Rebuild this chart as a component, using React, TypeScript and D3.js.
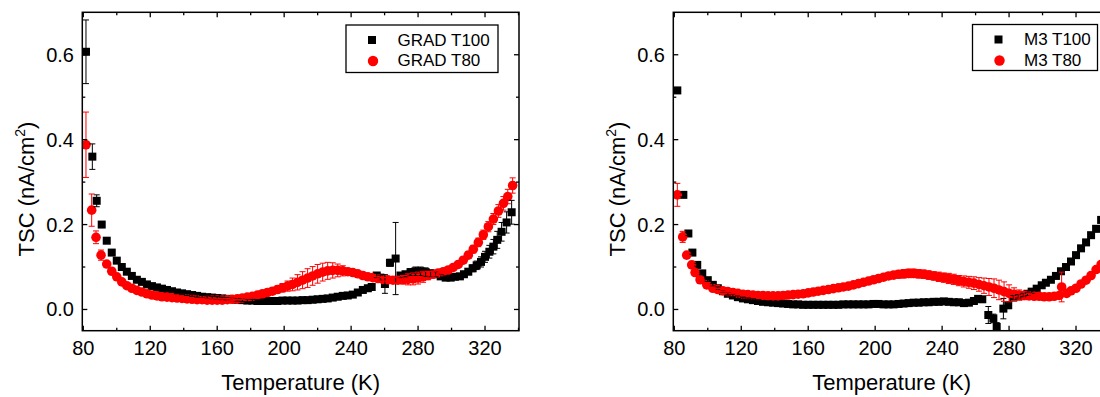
import React from "react";
import * as d3 from "d3";

// [temperature (K), TSC (nA/cm2), error]
type Pt = [number, number, number];

const gradT100: Pt[] = [
  [81.6, 0.607, 0.075], [85.4, 0.36, 0.03], [88, 0.256, 0.014], [91, 0.2, 0.006],
  [94, 0.162, 0.004], [97, 0.134, 0.003], [100, 0.115, 0.003], [103, 0.1, 0.003],
  [106, 0.089, 0.003], [109, 0.079, 0.003], [112, 0.07, 0.003], [115, 0.065, 0.003],
  [118, 0.059, 0.003], [121, 0.055, 0.003], [124, 0.052, 0.003], [127, 0.049, 0.003],
  [130, 0.046, 0.003], [133, 0.043, 0.003], [136, 0.04, 0.003], [139, 0.038, 0.003],
  [142, 0.036, 0.003], [145, 0.034, 0.003], [148, 0.032, 0.003], [151, 0.03, 0.003],
  [154, 0.029, 0.003], [157, 0.028, 0.003], [160, 0.027, 0.003], [163, 0.026, 0.003],
  [166, 0.025, 0.003], [169, 0.024, 0.003], [172, 0.023, 0.003], [175, 0.022, 0.003],
  [178, 0.021, 0.003], [181, 0.021, 0.003], [184, 0.02, 0.003], [187, 0.02, 0.003],
  [190, 0.02, 0.003], [193, 0.02, 0.003], [196, 0.02, 0.003], [199, 0.021, 0.003],
  [202, 0.021, 0.003], [205, 0.021, 0.003], [208, 0.021, 0.003], [211, 0.022, 0.003],
  [214, 0.022, 0.003], [217, 0.023, 0.003], [220, 0.024, 0.003], [223, 0.025, 0.003],
  [226, 0.026, 0.003], [229, 0.028, 0.003], [232, 0.03, 0.003], [235, 0.032, 0.003],
  [238, 0.033, 0.003], [241, 0.035, 0.003], [244, 0.04, 0.004], [247, 0.046, 0.004],
  [250, 0.05, 0.004], [252.3, 0.053, 0.004], [255.3, 0.08, 0.005], [257.5, 0.075, 0.006],
  [260.2, 0.06, 0.022], [263.2, 0.11, 0.008], [266.6, 0.12, 0.085], [269.5, 0.08, 0.005],
  [272.5, 0.083, 0.006], [275.5, 0.088, 0.008], [278.5, 0.09, 0.01], [281.5, 0.09, 0.01],
  [284.5, 0.088, 0.01], [287.5, 0.085, 0.008], [290.5, 0.083, 0.006], [293.5, 0.078, 0.005],
  [296.5, 0.075, 0.004], [299.5, 0.075, 0.004], [302, 0.077, 0.004], [305, 0.078, 0.005],
  [307.4, 0.083, 0.006], [310, 0.089, 0.007], [312.6, 0.097, 0.008], [315, 0.104, 0.01],
  [317.6, 0.112, 0.012], [320, 0.124, 0.013], [322.6, 0.136, 0.015], [325, 0.148, 0.017],
  [327.3, 0.164, 0.02], [329.9, 0.183, 0.022], [332.9, 0.205, 0.025], [335.9, 0.229, 0.028],
];

const gradT80: Pt[] = [
  [81.6, 0.388, 0.077], [85, 0.234, 0.038], [87.6, 0.17, 0.015], [90.6, 0.128, 0.012],
  [94, 0.107, 0.006], [97, 0.09, 0.005], [100, 0.077, 0.004], [103, 0.065, 0.004],
  [106, 0.056, 0.004], [109, 0.05, 0.003], [112, 0.045, 0.003], [115, 0.041, 0.003],
  [118, 0.037, 0.003], [121, 0.034, 0.003], [124, 0.032, 0.003], [127, 0.03, 0.003],
  [130, 0.029, 0.003], [133, 0.028, 0.003], [136, 0.027, 0.003], [139, 0.026, 0.003],
  [142, 0.025, 0.003], [145, 0.024, 0.003], [148, 0.023, 0.003], [151, 0.023, 0.003],
  [154, 0.022, 0.003], [157, 0.022, 0.003], [160, 0.022, 0.003], [163, 0.022, 0.003],
  [166, 0.023, 0.003], [169, 0.024, 0.003], [172, 0.025, 0.003], [175, 0.027, 0.003],
  [178, 0.029, 0.004], [181, 0.031, 0.004], [184, 0.034, 0.005], [187, 0.037, 0.005],
  [190, 0.04, 0.006], [193, 0.043, 0.007], [196, 0.047, 0.008], [199, 0.051, 0.01],
  [202, 0.055, 0.012], [205, 0.059, 0.015], [208, 0.064, 0.018], [211, 0.069, 0.02],
  [214, 0.074, 0.022], [217, 0.079, 0.022], [220, 0.084, 0.022], [223, 0.088, 0.021],
  [226, 0.091, 0.02], [229, 0.092, 0.018], [232, 0.092, 0.015], [235, 0.091, 0.012],
  [238, 0.089, 0.008], [241, 0.087, 0.006], [244, 0.084, 0.005], [247, 0.08, 0.004],
  [250, 0.077, 0.004], [253, 0.075, 0.004], [256, 0.073, 0.004], [259, 0.071, 0.004],
  [262, 0.07, 0.005], [265, 0.069, 0.006], [268, 0.069, 0.008], [271, 0.07, 0.01],
  [274, 0.071, 0.013], [277, 0.072, 0.014], [280, 0.074, 0.014], [283, 0.077, 0.013],
  [286, 0.08, 0.01], [289, 0.083, 0.007], [292, 0.086, 0.005], [295, 0.089, 0.004],
  [298, 0.093, 0.004], [301, 0.099, 0.005], [304, 0.106, 0.006], [307, 0.116, 0.007],
  [310, 0.128, 0.008], [313, 0.142, 0.009], [316, 0.158, 0.01], [319, 0.176, 0.011],
  [322, 0.195, 0.012], [325, 0.213, 0.013], [328, 0.232, 0.015], [331, 0.25, 0.016],
  [333.6, 0.266, 0.017], [336.5, 0.292, 0.018],
];

const m3T100: Pt[] = [
  [81.8, 0.516, 0.005], [85.4, 0.27, 0.005], [88.4, 0.179, 0.005], [90.8, 0.134, 0.004],
  [93.7, 0.105, 0.003], [96.7, 0.085, 0.003], [100, 0.069, 0.003], [103, 0.058, 0.003],
  [106, 0.05, 0.003], [109, 0.043, 0.003], [112, 0.037, 0.003], [115, 0.033, 0.003],
  [118, 0.029, 0.003], [121, 0.026, 0.003], [124, 0.024, 0.003], [127, 0.022, 0.003],
  [130, 0.02, 0.003], [133, 0.018, 0.003], [136, 0.017, 0.003], [139, 0.016, 0.003],
  [142, 0.015, 0.003], [145, 0.014, 0.003], [148, 0.013, 0.003], [151, 0.012, 0.003],
  [154, 0.012, 0.003], [157, 0.011, 0.003], [160, 0.011, 0.003], [163, 0.011, 0.003],
  [166, 0.011, 0.003], [169, 0.011, 0.003], [172, 0.011, 0.003], [175, 0.011, 0.003],
  [178, 0.011, 0.003], [181, 0.012, 0.003], [184, 0.012, 0.003], [187, 0.012, 0.003],
  [190, 0.012, 0.003], [193, 0.012, 0.003], [196, 0.012, 0.003], [199, 0.013, 0.003],
  [202, 0.013, 0.003], [205, 0.012, 0.003], [208, 0.012, 0.003], [211, 0.012, 0.003],
  [214, 0.013, 0.003], [217, 0.014, 0.003], [220, 0.015, 0.003], [223, 0.016, 0.003],
  [226, 0.016, 0.003], [229, 0.017, 0.003], [232, 0.017, 0.003], [235, 0.018, 0.003],
  [238, 0.018, 0.003], [241, 0.019, 0.003], [244, 0.018, 0.003], [247, 0.017, 0.003],
  [250, 0.017, 0.003], [253, 0.015, 0.003], [256, 0.016, 0.003], [259, 0.02, 0.003],
  [261.5, 0.025, 0.004], [264, 0.024, 0.005], [267.6, -0.013, 0.02], [270.6, -0.021, 0.01],
  [272.6, -0.041, 0.01], [276.6, 0.002, 0.024], [279.5, 0.01, 0.008], [282.5, 0.028, 0.005],
  [285.5, 0.031, 0.004], [288.5, 0.034, 0.004], [291, 0.037, 0.004], [293.5, 0.042, 0.004],
  [296.5, 0.049, 0.004], [299.5, 0.057, 0.004], [302, 0.063, 0.004], [305, 0.07, 0.004],
  [308, 0.079, 0.005], [311, 0.09, 0.005], [314, 0.1, 0.005], [317, 0.113, 0.005],
  [320, 0.128, 0.005], [323, 0.144, 0.006], [326, 0.158, 0.006], [329, 0.175, 0.006],
  [332, 0.19, 0.007], [335, 0.211, 0.007], [338, 0.235, 0.008],
];

const m3T80: Pt[] = [
  [81.8, 0.27, 0.027], [85, 0.171, 0.013], [87.4, 0.128, 0.006], [90.4, 0.105, 0.005],
  [92.4, 0.087, 0.004], [95.4, 0.07, 0.004], [99.4, 0.058, 0.003], [103, 0.05, 0.003],
  [106, 0.047, 0.003], [109, 0.044, 0.003], [112, 0.042, 0.003], [115, 0.04, 0.003],
  [118, 0.038, 0.003], [121, 0.036, 0.003], [124, 0.035, 0.003], [127, 0.034, 0.003],
  [130, 0.033, 0.003], [133, 0.033, 0.003], [136, 0.032, 0.003], [139, 0.032, 0.003],
  [142, 0.032, 0.003], [145, 0.033, 0.003], [148, 0.034, 0.003], [151, 0.035, 0.003],
  [154, 0.036, 0.003], [157, 0.037, 0.003], [160, 0.039, 0.003], [163, 0.041, 0.003],
  [166, 0.043, 0.003], [169, 0.045, 0.003], [172, 0.047, 0.003], [175, 0.049, 0.003],
  [178, 0.051, 0.003], [181, 0.053, 0.003], [184, 0.055, 0.003], [187, 0.058, 0.004],
  [190, 0.061, 0.004], [193, 0.064, 0.004], [196, 0.067, 0.004], [199, 0.07, 0.005],
  [202, 0.073, 0.005], [205, 0.076, 0.006], [208, 0.079, 0.007], [211, 0.081, 0.008],
  [214, 0.083, 0.009], [217, 0.084, 0.01], [220, 0.085, 0.01], [223, 0.085, 0.01],
  [226, 0.084, 0.01], [229, 0.083, 0.01], [232, 0.081, 0.01], [235, 0.079, 0.01],
  [238, 0.077, 0.011], [241, 0.075, 0.011], [244, 0.073, 0.012], [247, 0.071, 0.012],
  [250, 0.068, 0.012], [253, 0.066, 0.013], [256, 0.064, 0.014], [259, 0.062, 0.015],
  [262, 0.059, 0.016], [265, 0.056, 0.018], [268, 0.053, 0.02], [271, 0.05, 0.022],
  [274, 0.046, 0.023], [277, 0.042, 0.023], [280, 0.038, 0.02], [283, 0.036, 0.015],
  [286, 0.034, 0.012], [289, 0.033, 0.01], [292, 0.032, 0.006], [295, 0.031, 0.004],
  [298, 0.031, 0.004], [301, 0.03, 0.004], [304, 0.03, 0.004], [307, 0.031, 0.004],
  [310, 0.033, 0.004], [311.4, 0.053, 0.035], [314.4, 0.038, 0.004], [317, 0.044, 0.004],
  [320, 0.05, 0.004], [323, 0.06, 0.004], [326, 0.069, 0.005], [329, 0.08, 0.005],
  [332, 0.094, 0.005], [335, 0.106, 0.006], [338, 0.12, 0.006],
];

const xMajor = [80, 120, 160, 200, 240, 280, 320];
const xMinor = [100, 140, 180, 220, 260, 300, 340];
const yMajor = [0, 0.2, 0.4, 0.6];
const yMinor = [0.1, 0.3, 0.5];

const FONT = "'Liberation Sans', Arial, Helvetica, sans-serif";

interface PanelProps {
  id: string;
  left: number;
  right: number;
  t100: Pt[];
  t80: Pt[];
  labels: [string, string];
  legend: { x: number; y: number; w: number; h: number };
}

function Panel({ id, left, right, t100, t80, labels, legend }: PanelProps) {
  const x = d3.scaleLinear().domain([79.4, 340.3]).range([left, right]);
  const y = d3.scaleLinear().domain([-0.05, 0.7]).range([330.7, 12.3]);
  const bottom = y.range()[0];
  const top = y.range()[1];
  const majLen = 5;
  const minLen = 3;

  const errBars = (data: Pt[], color: string) =>
    data
      .filter((d) => d[2] > 0)
      .map((d, i) => {
        const cx = x(d[0]);
        const ya = y(d[1] + d[2]);
        const yb = y(d[1] - d[2]);
        return (
          <g key={color + i} stroke={color} strokeWidth={1}>
            <line x1={cx} x2={cx} y1={ya} y2={yb} />
            <line x1={cx - 3} x2={cx + 3} y1={ya} y2={ya} />
            <line x1={cx - 3} x2={cx + 3} y1={yb} y2={yb} />
          </g>
        );
      });

  return (
    <g fontFamily={FONT}>
      <defs>
        <clipPath id={id}>
          <rect x={left} y={top} width={right - left} height={bottom - top} />
        </clipPath>
      </defs>

      <g clipPath={`url(#${id})`}>
        {t100.map((d, i) => (
          <rect key={"s" + i} x={x(d[0]) - 4} y={y(d[1]) - 4} width={8} height={8} fill="#000" />
        ))}
        {t80.map((d, i) => (
          <circle key={"c" + i} cx={x(d[0])} cy={y(d[1])} r={4.8} fill="#ff0000" />
        ))}
        {errBars(t100, "#000")}
        {errBars(t80, "#ff0000")}
      </g>

      {/* frame */}
      <rect x={left} y={top} width={right - left} height={bottom - top} fill="none" stroke="#000" strokeWidth={1.5} />

      {/* ticks, inward on all four sides */}
      <g stroke="#000" strokeWidth={1.3}>
        {xMajor.map((t) => (
          <g key={"xm" + t}>
            <line x1={x(t)} x2={x(t)} y1={bottom} y2={bottom - majLen} />
            <line x1={x(t)} x2={x(t)} y1={top} y2={top + majLen} />
          </g>
        ))}
        {xMinor.map((t) => (
          <g key={"xn" + t}>
            <line x1={x(t)} x2={x(t)} y1={bottom} y2={bottom - minLen} />
            <line x1={x(t)} x2={x(t)} y1={top} y2={top + minLen} />
          </g>
        ))}
        {yMajor.map((t) => (
          <g key={"ym" + t}>
            <line x1={left} x2={left + majLen} y1={y(t)} y2={y(t)} />
            <line x1={right} x2={right - majLen} y1={y(t)} y2={y(t)} />
          </g>
        ))}
        {yMinor.map((t) => (
          <g key={"yn" + t}>
            <line x1={left} x2={left + minLen} y1={y(t)} y2={y(t)} />
            <line x1={right} x2={right - minLen} y1={y(t)} y2={y(t)} />
          </g>
        ))}
      </g>

      {/* tick labels */}
      <g fontSize={20} fill="#000">
        {xMajor.map((t) => (
          <text key={"xl" + t} x={x(t)} y={355} textAnchor="middle">
            {t}
          </text>
        ))}
        {yMajor.map((t) => (
          <text key={"yl" + t} x={left - 8.3} y={y(t) + 7} textAnchor="end">
            {t.toFixed(1)}
          </text>
        ))}
      </g>

      {/* axis titles */}
      <text x={(left + right) / 2} y={390} fontSize={22} textAnchor="middle" fill="#000">
        Temperature (K)
      </text>
      <text transform={`translate(${left - 48},189) rotate(-90)`} fontSize={22} textAnchor="middle" fill="#000">
        TSC (nA/cm
        <tspan fontSize={14} dy={-9}>2</tspan>
        <tspan dy={9}>)</tspan>
      </text>

      {/* legend */}
      <rect x={legend.x} y={legend.y} width={legend.w} height={legend.h} fill="#fff" stroke="#000" strokeWidth={1.3} />
      <rect x={legend.x + 26 - 4} y={legend.y + 15 - 4} width={8} height={8} fill="#000" />
      <circle cx={legend.x + 27} cy={legend.y + 36} r={5.2} fill="#ff0000" />
      <text x={legend.x + 51.5} y={legend.y + 20.5} fontSize={17} fill="#000">
        {labels[0]}
      </text>
      <text x={legend.x + 51.5} y={legend.y + 41} fontSize={17} fill="#000">
        {labels[1]}
      </text>
    </g>
  );
}

export default function App() {
  return (
    <svg
      width={1100}
      height={397}
      style={{ position: "absolute", left: 0, top: 0, background: "#fff" }}
    >
      <rect x={0} y={0} width={1100} height={397} fill="#fff" />
      <Panel
        id="clipGrad"
        left={82.3}
        right={519}
        t100={gradT100}
        t80={gradT80}
        labels={["GRAD T100", "GRAD T80"]}
        legend={{ x: 346, y: 25, w: 152, h: 47.5 }}
      />
      <Panel
        id="clipM3"
        left={673.3}
        right={1110}
        t100={m3T100}
        t80={m3T80}
        labels={["M3 T100", "M3 T80"]}
        legend={{ x: 972.5, y: 24.5, w: 125, h: 46 }}
      />
    </svg>
  );
}
